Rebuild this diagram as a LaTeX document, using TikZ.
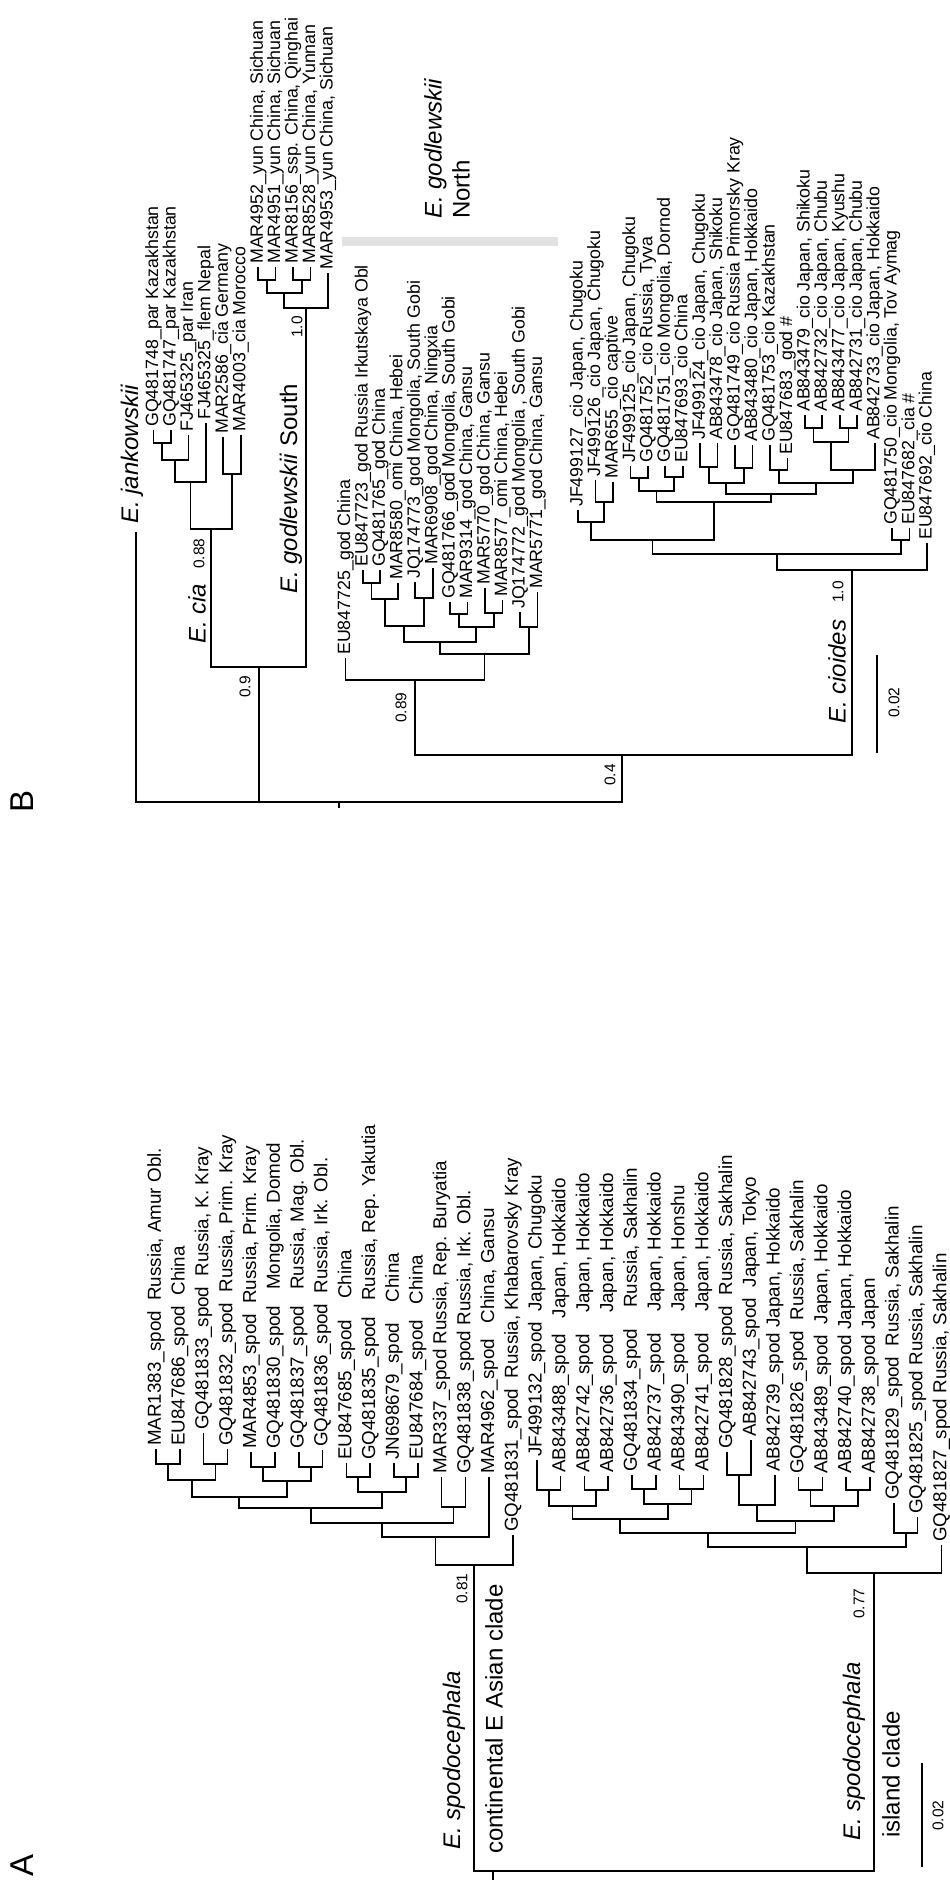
\documentclass[tikz,border=0pt]{standalone}
\usepackage{fontspec}
\setmainfont{Liberation Sans}
\usepackage{xcolor}
\usepackage{tikz}
\definecolor{bargray}{RGB}{226,226,226}

\begin{document}
\begin{tikzpicture}[
    x=1pt, y=-1pt,
    br/.style={line width=1.7pt},
    leafA/.style={rotate=90, anchor=west, inner xsep=3pt, inner ysep=0pt,
      font=\fontsize{18.8}{20}\selectfont},
    leafB/.style={rotate=90, anchor=west, inner xsep=3pt, inner ysep=0pt,
      font=\fontsize{17.8}{19}\selectfont},
    clade/.style={rotate=90, anchor=west, inner sep=0pt,
      font=\fontsize{24}{28}\selectfont},
    supp/.style={rotate=90, anchor=west, inner sep=0pt,
      font=\fontsize{15.5}{17}\selectfont},
    panel/.style={rotate=90, inner sep=0pt, font=\fontsize{33}{36}\selectfont}
  ]
  \useasboundingbox (0,0) rectangle (950,1880);

  %% ---------------- panel B ----------------
  \node[panel] (labB) at (22,801) {B};

  % leaves
  \coordinate (bJ) at (136,532);
  \node[clade] (bJlbl) at (132,524) {\textit{E. jankowskii}};
  \node[leafB] (b1) at (153.5,430) {GQ481748\_par Kazakhstan};
  \node[leafB] (b2) at (171,430) {GQ481747\_par Kazakhstan};
  \node[leafB] (b3) at (188.4,435) {FJ465325\_par Iran};
  \node[leafB] (b4) at (205.8,423) {FJ465325\_flem Nepal};
  \node[leafB] (b5) at (223.3,437) {MAR2586\_cia Germany};
  \node[leafB] (b6) at (240.7,435) {MAR4003\_cia Morocco};
  \node[leafB] (y1) at (258.2,267) {MAR4952\_yun China, Sichuan};
  \node[leafB] (y2) at (275.6,267) {MAR4951\_yun China, Sichuan};
  \node[leafB] (y3) at (293,267) {MAR8156\_ssp. China, Qinghai};
  \node[leafB] (y4) at (310.5,267) {MAR8528\_yun China, Yunnan};
  \node[leafB] (y5) at (328,273) {MAR4953\_yun China, Sichuan};
  \node[leafB] (g1) at (345.4,658) {EU847725\_god China};
  \node[leafB] (g2) at (362.9,570) {EU847723\_god Russia Irkutskaya Obl};
  \node[leafB] (g3) at (380.3,570) {GQ481765\_god China};
  \node[leafB] (g4) at (397.8,583) {MAR8580\_omi China, Hebei};
  \node[leafB] (g5) at (415.2,582) {JQ174773\_god Mongolia, South Gobi};
  \node[leafB] (g6) at (432.7,568) {MAR6908\_god China, Ningxia};
  \node[leafB] (g7) at (450.1,602) {GQ481766\_god Mongolia, South Gobi};
  \node[leafB] (g8) at (467.6,602) {MAR9314\_god China, Gansu};
  \node[leafB] (g9) at (485,588) {MAR5770\_god China, Gansu};
  \node[leafB] (g10) at (502.5,600) {MAR8577\_omi China, Hebei};
  \node[leafB] (g11) at (520,612) {JQ174772\_god Mongolia , South Gobi};
  \node[leafB] (g12) at (537.4,592) {MAR5771\_god China, Gansu};
  \node[leafB] (c1) at (578,510) {JF499127\_cio Japan, Chugoku};
  \node[leafB] (c2) at (595.5,480) {JF499126\_cio Japan, Chugoku};
  \node[leafB] (c3) at (612.9,482) {MAR655\_cio captive};
  \node[leafB] (c4) at (630.4,466) {JF499125\_cio Japan, Chugoku};
  \node[leafB] (c5) at (647.8,466) {GQ481752\_cio Russia, Tyva};
  \node[leafB] (c6) at (665.3,466) {GQ481751\_cio Mongolia, Dornod};
  \node[leafB] (c7) at (682.7,466) {EU847693\_cio China};
  \node[leafB] (c8) at (700.2,443) {JF499124\_cio Japan, Chugoku};
  \node[leafB] (c9) at (717.6,443) {AB843478\_cio Japan, Shikoku};
  \node[leafB] (c10) at (735.1,445) {GQ481749\_cio Russia Primorsky Kray};
  \node[leafB] (c11) at (752.5,445) {AB843480\_cio Japan, Hokkaido};
  \node[leafB] (c12) at (770,445) {GQ481753\_cio Kazakhstan};
  \node[leafB] (c13) at (787.4,458) {EU847683\_god \#};
  \node[leafB] (c14) at (804.9,415) {AB843479\_cio Japan, Shikoku};
  \node[leafB] (c15) at (822.3,415) {AB842732\_cio Japan, Chubu};
  \node[leafB] (c16) at (839.8,415) {AB843477\_cio Japan, Kyushu};
  \node[leafB] (c17) at (857.2,415) {AB842731\_cio Japan, Chubu};
  \node[leafB] (c18) at (874.7,443) {AB842733\_cio Japan, Hokkaido};
  \node[leafB] (c19) at (892.1,528) {GQ481750\_cio Mongolia, Tov Aymag};
  \node[leafB] (c20) at (909.6,528) {EU847682\_cia \#};
  \node[leafB] (c21) at (927,543) {EU847692\_cio China};

  % internal nodes
  \coordinate (nB12) at (162.3,443);
  \coordinate (nB13) at (175.3,460);
  \coordinate (nB14) at (190.6,482);
  \coordinate (nB56) at (232,474);
  \coordinate (nCia) at (211.3,529);
  \coordinate (nY12) at (266.9,280);
  \coordinate (nY34) at (301.8,280);
  \coordinate (nY14) at (284.3,293);
  \coordinate (nGodS) at (306.2,308);
  \coordinate (nCG) at (258.7,667);
  \coordinate (nG23) at (371.6,583);
  \coordinate (nG24) at (384.7,599);
  \coordinate (nG56) at (424,598);
  \coordinate (nG26) at (404.3,626);
  \coordinate (nG78) at (458.9,614);
  \coordinate (nG910) at (493.8,613);
  \coordinate (nG710) at (476.3,627);
  \coordinate (nG210) at (440.3,642);
  \coordinate (nG1112) at (528.7,627);
  \coordinate (nG212) at (484.5,654);
  \coordinate (nGodN) at (414.9,680);
  \coordinate (nC23) at (604.2,502);
  \coordinate (nC13) at (591.1,522);
  \coordinate (nC45) at (639.1,478);
  \coordinate (nC67) at (674,477);
  \coordinate (nC47) at (656.5,491);
  \coordinate (nC89) at (708.9,467);
  \coordinate (nC1011) at (743.8,468);
  \coordinate (nC811) at (726.3,483);
  \coordinate (nC1213) at (778.7,470);
  \coordinate (nC1415) at (813.6,428);
  \coordinate (nC1617) at (848.5,428);
  \coordinate (nC1417) at (831,442);
  \coordinate (nC1418) at (852.8,470);
  \coordinate (nC1218) at (815.8,483);
  \coordinate (nC818) at (771,494);
  \coordinate (nC418) at (713.8,502);
  \coordinate (nC118) at (652.5,540);
  \coordinate (nC1920) at (900.8,540);
  \coordinate (nC120) at (776.7,554);
  \coordinate (nCio) at (851.9,570);
  \coordinate (nGC) at (622,755);
  \coordinate (rootB) at (339,802);
  \coordinate (rootBend) at (339,808);

  % branches
  \draw[br] (b1.west) |- (nB12) -| (b2.west);
  \draw[br] (nB12) |- (nB13) -| (b3.west);
  \draw[br] (nB13) |- (nB14) -| (b4.west);
  \draw[br] (b5.west) |- (nB56) -| (b6.west);
  \draw[br] (nB14) |- (nCia) -| (nB56);
  \draw[br] (y1.west) |- (nY12) -| (y2.west);
  \draw[br] (y3.west) |- (nY34) -| (y4.west);
  \draw[br] (nY12) |- (nY14) -| (nY34);
  \draw[br] (nY14) |- (nGodS) -| (y5.west);
  \draw[br] (nCia) |- (nCG) -| (nGodS);
  \draw[br] (g2.west) |- (nG23) -| (g3.west);
  \draw[br] (nG23) |- (nG24) -| (g4.west);
  \draw[br] (g5.west) |- (nG56) -| (g6.west);
  \draw[br] (nG24) |- (nG26) -| (nG56);
  \draw[br] (g7.west) |- (nG78) -| (g8.west);
  \draw[br] (g9.west) |- (nG910) -| (g10.west);
  \draw[br] (nG78) |- (nG710) -| (nG910);
  \draw[br] (nG26) |- (nG210) -| (nG710);
  \draw[br] (g11.west) |- (nG1112) -| (g12.west);
  \draw[br] (nG210) |- (nG212) -| (nG1112);
  \draw[br] (g1.west) |- (nGodN) -| (nG212);
  \draw[br] (c2.west) |- (nC23) -| (c3.west);
  \draw[br] (c1.west) |- (nC13) -| (nC23);
  \draw[br] (c4.west) |- (nC45) -| (c5.west);
  \draw[br] (c6.west) |- (nC67) -| (c7.west);
  \draw[br] (nC45) |- (nC47) -| (nC67);
  \draw[br] (c8.west) |- (nC89) -| (c9.west);
  \draw[br] (c10.west) |- (nC1011) -| (c11.west);
  \draw[br] (nC89) |- (nC811) -| (nC1011);
  \draw[br] (c12.west) |- (nC1213) -| (c13.west);
  \draw[br] (c14.west) |- (nC1415) -| (c15.west);
  \draw[br] (c16.west) |- (nC1617) -| (c17.west);
  \draw[br] (nC1415) |- (nC1417) -| (nC1617);
  \draw[br] (nC1417) |- (nC1418) -| (c18.west);
  \draw[br] (nC1213) |- (nC1218) -| (nC1418);
  \draw[br] (nC811) |- (nC818) -| (nC1218);
  \draw[br] (nC47) |- (nC418) -| (nC818);
  \draw[br] (nC13) |- (nC118) -| (nC418);
  \draw[br] (c19.west) |- (nC1920) -| (c20.west);
  \draw[br] (nC118) |- (nC120) -| (nC1920);
  \draw[br] (nC120) |- (nCio) -| (c21.west);
  \draw[br] (nGodN) |- (nGC) -| (nCio);
  \draw[br] (bJ) |- (rootB) -| (nGC);
  \draw[br] (nCG) |- (rootB);
  \draw[br] (rootB) -- (rootBend);

  % clade names, support values, scale
  \node[supp] (s088) at (199,569) {0.88};
  \node[clade] (ciaLbl) at (197,644) {\textit{E. cia}};
  \node[supp] (s10a) at (297,338) {1.0};
  \node[clade] (godSLbl) at (291,594) {\textit{E. godlewskii} South};
  \node[supp] (s09) at (245,698) {0.9};
  \node[supp] (s089) at (401,723) {0.89};
  \node[supp] (s04) at (610,786) {0.4};
  \node[clade, align=left] (godNLbl) at (447,219) {\textit{E. godlewskii}\\North};
  \fill[bargray] (342,237) rectangle (558,246);
  \node[supp] (s10b) at (838,603) {1.0};
  \node[clade] (cioLbl) at (837,724) {\textit{E. cioides}};
  \coordinate (sbB1) at (877,655);
  \coordinate (sbB2) at (877,753);
  \draw[br] (sbB1) -- (sbB2);
  \node[supp] (sbBLbl) at (894,718) {0.02};

  %% ---------------- panel A ----------------
  \node[panel] (labA) at (22,1865) {A};

  % leaves
  \node[leafA] (a1) at (156,1449) {MAR1383\_spod\ \ Russia, Amur Obl.};
  \node[leafA] (a2) at (179.8,1449) {EU847686\_spod\ \ China};
  \node[leafA] (a3) at (203.6,1433) {GQ481833\_spod\ \ Russia, K. Kray};
  \node[leafA] (a4) at (227.4,1449) {GQ481832\_spod\ \ Russia, Prim. Kray};
  \node[leafA] (a5) at (251.2,1452) {MAR4853\_spod\ \ Russia, Prim. Kray};
  \node[leafA] (a6) at (275,1452) {GQ481830\_spod\ \ \ Mongolia, Domod};
  \node[leafA] (a7) at (298.8,1452) {GQ481837\_spod\ \ \ Russia, Mag. Obl.};
  \node[leafA] (a8) at (322.6,1450) {GQ481836\_spod\ \ Russia, Irk. Obl.};
  \node[leafA] (a9) at (346.4,1463) {EU847685\_spod\ \ \ \ China};
  \node[leafA] (a10) at (370.2,1463) {GQ481835\_spod\ \ \ Russia, Rep. Yakutia};
  \node[leafA] (a11) at (394,1463) {JN698679\_spod\ \ \ \ China};
  \node[leafA] (a12) at (417.8,1463) {EU847684\_spod\ \ \ China};
  \node[leafA] (a13) at (441.6,1477) {MAR337\_spod Russia, Rep. Buryatia};
  \node[leafA] (a14) at (465.4,1477) {GQ481838\_spod Russia, Irk. Obl.};
  \node[leafA] (a15) at (489.2,1477) {MAR4962\_spod\ \ \ China, Gansu};
  \node[leafA] (a16) at (513,1535) {GQ481831\_spod\ \ Russia, Khabarovsky Kray};
  \node[leafA] (a17) at (536.8,1460) {JF499132\_spod\ \ Japan, Chugoku};
  \node[leafA] (a18) at (560.6,1476) {AB843488\_spod\ \ \ Japan, Hokkaido};
  \node[leafA] (a19) at (584.4,1476) {AB842742\_spod\ \ \ \ Japan, Hokkaido};
  \node[leafA] (a20) at (608.2,1476) {AB842736\_spod\ \ \ \ Japan, Hokkaido};
  \node[leafA] (a21) at (632,1475) {GQ481834\_spod\ \ \ \ Russia, Sakhalin};
  \node[leafA] (a22) at (655.8,1475) {AB842737\_spod\ \ \ \ Japan, Hokkaido};
  \node[leafA] (a23) at (679.6,1475) {AB843490\_spod\ \ \ \ Japan, Honshu};
  \node[leafA] (a24) at (703.4,1475) {AB842741\_spod\ \ \ \ Japan, Hokkaido};
  \node[leafA] (a25) at (727.2,1452) {GQ481828\_spod\ \ Russia, Sakhalin};
  \node[leafA] (a26) at (751,1440) {AB842743\_spod\ \ Japan, Tokyo};
  \node[leafA] (a27) at (774.8,1475) {AB842739\_spod Japan, Hokkaido};
  \node[leafA] (a28) at (798.6,1477) {GQ481826\_spod\ \ Russia, Sakhalin};
  \node[leafA] (a29) at (822.4,1477) {AB843489\_spod\ \ Japan, Hokkaido};
  \node[leafA] (a30) at (846.2,1477) {AB842740\_spod Japan, Hokkaido};
  \node[leafA] (a31) at (870,1477) {AB842738\_spod Japan};
  \node[leafA] (a32) at (893.8,1503) {GQ481829\_spod\ \ Russia, Sakhalin};
  \node[leafA] (a33) at (917.6,1517) {GQ481825\_spod Russia, Sakhalin};
  \node[leafA] (a34) at (941.4,1545) {GQ481827\_spod Russia, Sakhalin};

  % internal nodes
  \coordinate (nA12) at (167.9,1464);
  \coordinate (nA34) at (215.5,1464);
  \coordinate (nA14) at (191.7,1480);
  \coordinate (nA56) at (263.1,1467);
  \coordinate (nA78) at (310.7,1467);
  \coordinate (nA58) at (286.9,1481);
  \coordinate (nA18) at (239.3,1497);
  \coordinate (nA910) at (358.3,1477);
  \coordinate (nA1112) at (405.9,1477);
  \coordinate (nA912) at (382.1,1492);
  \coordinate (nA112) at (310.7,1508);
  \coordinate (nA1314) at (453.5,1507);
  \coordinate (nA114) at (382.1,1523);
  \coordinate (nA115) at (435.6,1537);
  \coordinate (nCont) at (474.3,1565);
  \coordinate (nA1718) at (548.7,1490);
  \coordinate (nA1920) at (596.3,1490);
  \coordinate (nA1720) at (572.5,1506);
  \coordinate (nA2122) at (643.9,1489);
  \coordinate (nA2324) at (691.5,1489);
  \coordinate (nA2124) at (667.7,1504);
  \coordinate (nA1724) at (620.1,1519);
  \coordinate (nA2526) at (739.1,1475);
  \coordinate (nA2527) at (757,1505);
  \coordinate (nA2829) at (810.5,1490);
  \coordinate (nA3031) at (858.1,1490);
  \coordinate (nA2831) at (834.3,1506);
  \coordinate (nA2531) at (795.6,1521);
  \coordinate (nA1731) at (707.9,1533);
  \coordinate (nA3233) at (905.7,1533);
  \coordinate (nA1733) at (806.8,1547);
  \coordinate (nIsl) at (874.1,1573);
  \coordinate (rootA) at (493,1871);
  \coordinate (rootAend) at (493,1880);

  % branches
  \draw[br] (a1.west) |- (nA12) -| (a2.west);
  \draw[br] (a3.west) |- (nA34) -| (a4.west);
  \draw[br] (nA12) |- (nA14) -| (nA34);
  \draw[br] (a5.west) |- (nA56) -| (a6.west);
  \draw[br] (a7.west) |- (nA78) -| (a8.west);
  \draw[br] (nA56) |- (nA58) -| (nA78);
  \draw[br] (nA14) |- (nA18) -| (nA58);
  \draw[br] (a9.west) |- (nA910) -| (a10.west);
  \draw[br] (a11.west) |- (nA1112) -| (a12.west);
  \draw[br] (nA910) |- (nA912) -| (nA1112);
  \draw[br] (nA18) |- (nA112) -| (nA912);
  \draw[br] (a13.west) |- (nA1314) -| (a14.west);
  \draw[br] (nA112) |- (nA114) -| (nA1314);
  \draw[br] (nA114) |- (nA115) -| (a15.west);
  \draw[br] (nA115) |- (nCont) -| (a16.west);
  \draw[br] (a17.west) |- (nA1718) -| (a18.west);
  \draw[br] (a19.west) |- (nA1920) -| (a20.west);
  \draw[br] (nA1718) |- (nA1720) -| (nA1920);
  \draw[br] (a21.west) |- (nA2122) -| (a22.west);
  \draw[br] (a23.west) |- (nA2324) -| (a24.west);
  \draw[br] (nA2122) |- (nA2124) -| (nA2324);
  \draw[br] (nA1720) |- (nA1724) -| (nA2124);
  \draw[br] (a25.west) |- (nA2526) -| (a26.west);
  \draw[br] (nA2526) |- (nA2527) -| (a27.west);
  \draw[br] (a28.west) |- (nA2829) -| (a29.west);
  \draw[br] (a30.west) |- (nA3031) -| (a31.west);
  \draw[br] (nA2829) |- (nA2831) -| (nA3031);
  \draw[br] (nA2527) |- (nA2531) -| (nA2831);
  \draw[br] (nA1724) |- (nA1731) -| (nA2531);
  \draw[br] (a32.west) |- (nA3233) -| (a33.west);
  \draw[br] (nA1731) |- (nA1733) -| (nA3233);
  \draw[br] (nA1733) |- (nIsl) -| (a34.west);
  \draw[br] (nCont) |- (rootA) -| (nIsl);
  \draw[br] (rootA) -- (rootAend);

  % clade names, support values, scale
  \node[supp] (s081) at (462,1604) {0.81};
  \node[clade] (contSp) at (454,1850) {\textit{E. spodocephala}};
  \node[clade] (contLbl) at (494,1854) {continental E Asian clade};
  \node[supp] (s077) at (859,1619) {0.77};
  \node[clade] (islSp) at (854,1841) {\textit{E. spodocephala}};
  \node[clade] (islLbl) at (891,1838) {island clade};
  \coordinate (sbA1) at (922,1763);
  \coordinate (sbA2) at (922,1867);
  \draw[br] (sbA1) -- (sbA2);
  \node[supp] (sbALbl) at (938,1831) {0.02};
\end{tikzpicture}
\end{document}
